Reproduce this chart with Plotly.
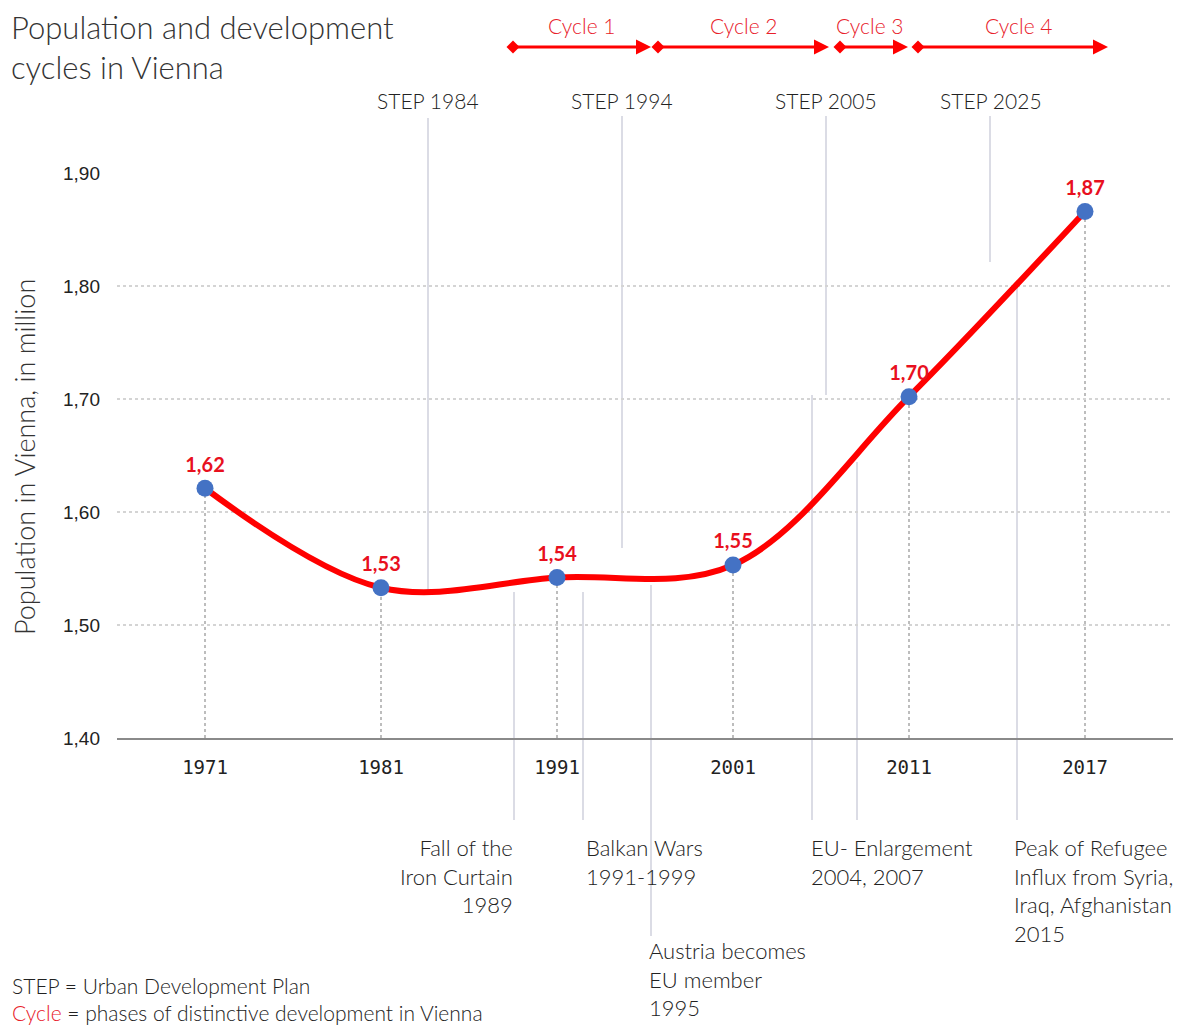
import plotly.graph_objects as go

# ---------------- data ----------------
years = ["1971", "1981", "1991", "2001", "2011", "2017"]
population = [1.621, 1.533, 1.542, 1.553, 1.702, 1.866]

step_labels = ["STEP 1984", "STEP 1994", "STEP 2005", "STEP 2025"]
cycle_labels = ["Cycle 1", "Cycle 2", "Cycle 3", "Cycle 4"]
event_labels = [
    "Fall of the<br>Iron Curtain<br>1989",
    "Balkan Wars<br>1991-1999",
    "Austria becomes<br>EU member<br>1995",
    "EU- Enlargement<br>2004, 2007",
    "Peak of Refugee<br>Influx from Syria,<br>Iraq, Afghanistan<br>2015",
]
y_ticks = [1.40, 1.50, 1.60, 1.70, 1.80, 1.90]

# ---------------- layout helpers (pixel positions of decorations) ----------------
W, H = 1181, 1025
PL, PR, PT, PB = 117, 1173, 173, 738   # plot area in pixels
STEP = (PR - PL) / len(years)


def dx(px):
    """pixel x -> category-axis data x"""
    return (px - PL) / STEP - 0.5


def py(pyv):
    """pixel y -> paper y"""
    return (PB - pyv) / (PB - PT)


def px_paper_x(px):
    return (px - PL) / (PR - PL)


RED = "#FF0000"
LINEC = "#cfd0dc"
FONT = "Lato"
TXT = "#222222"

fig = go.Figure()

xs = list(range(len(years)))

# dotted drop lines from each point to the axis
for i, v in enumerate(population):
    fig.add_shape(type="line", xref="x", yref="y", x0=i, x1=i, y0=y_ticks[0], y1=v,
                  line=dict(color="#a8a8a8", width=1.5, dash="dot"), layer="below")

# main series
fig.add_trace(go.Scatter(
    x=xs, y=population, mode="lines+markers+text",
    line=dict(color=RED, width=6, shape="spline", smoothing=1.0),
    marker=dict(color="#4472C4", size=17, line=dict(width=0)),
    texttemplate="%{y:.2f}", textposition="top center",
    textfont=dict(family=FONT, size=20, color="#e8101e", weight="bold"),
    cliponaxis=False, showlegend=False, hoverinfo="skip",
))

# vertical event/STEP lines (pixel x, top, bottom)
vlines = [
    (428, 118, 592), (622, 116, 548), (826, 116, 395), (990, 116, 262),
    (514, 592, 820), (583, 592, 820), (651, 585, 936),
    (812, 395, 820), (857, 462, 820), (1017, 282, 820),
]
for (xp, t, b) in vlines:
    fig.add_shape(type="line", xref="x", yref="paper", x0=dx(xp), x1=dx(xp),
                  y0=py(b), y1=py(t), line=dict(color=LINEC, width=1.5), layer="below")

# STEP labels
step_px = [428, 622, 826, 991]
for lab, xp in zip(step_labels, step_px):
    fig.add_annotation(text=lab, xref="x", yref="paper", x=dx(xp), y=py(101),
                       xanchor="center", yanchor="middle", showarrow=False,
                       font=dict(family=FONT, size=21, color=TXT, weight=300))

# cycle arrows
cycles_px = [(513, 651), (658, 829), (840, 908), (918, 1108)]
cyc_label_px = [581, 743, 869, 1018]
AY = 47
hw = 6.5 / STEP              # diamond half width (data units)
hh = 6.5 / (PB - PT)         # diamond half height (paper units)
tl = 15 / STEP               # triangle length
th = 7.5 / (PB - PT)         # triangle half height
for (a, b), lab, lx in zip(cycles_px, cycle_labels, cyc_label_px):
    xa, xb, yc = dx(a), dx(b), py(AY)
    fig.add_shape(type="line", xref="x", yref="paper", x0=xa, x1=xb - tl * 0.8,
                  y0=yc, y1=yc, line=dict(color=RED, width=3))
    fig.add_shape(type="path", xref="x", yref="paper",
                  path=f"M {xa - hw} {yc} L {xa} {yc + hh} L {xa + hw} {yc} L {xa} {yc - hh} Z",
                  fillcolor=RED, line=dict(width=0))
    fig.add_shape(type="path", xref="x", yref="paper",
                  path=f"M {xb} {yc} L {xb - tl} {yc + th} L {xb - tl} {yc - th} Z",
                  fillcolor=RED, line=dict(width=0))
    fig.add_annotation(text=lab, xref="x", yref="paper", x=dx(lx), y=py(26),
                       xanchor="center", yanchor="middle", showarrow=False,
                       font=dict(family=FONT, size=21, color="#e8202a", weight=300))

# event annotations below axis (pixel x, pixel top, anchor)
ev_pos = [(515, 832, "right"), (584, 832, "left"), (647, 935, "left"),
          (809, 832, "left"), (1012, 832, "left")]
for lab, (xp, tp, anc) in zip(event_labels, ev_pos):
    fig.add_annotation(text=lab, xref="x", yref="paper", x=dx(xp), y=py(tp),
                       xanchor=anc, yanchor="top", align=anc, showarrow=False,
                       font=dict(family=FONT, size=22, color=TXT, weight=300))

# footnotes
fig.add_annotation(text="STEP = Urban Development Plan", xref="paper", yref="paper",
                   x=px_paper_x(10), y=py(985), xanchor="left", yanchor="middle",
                   showarrow=False, font=dict(family=FONT, size=21, color=TXT, weight=300))
fig.add_annotation(text="<span style='color:#e8202a'>Cycle</span> = phases of distinctive development in Vienna",
                   xref="paper", yref="paper",
                   x=px_paper_x(10), y=py(1012), xanchor="left", yanchor="middle",
                   showarrow=False, font=dict(family=FONT, size=21, color=TXT, weight=300))

# y-axis title
fig.add_annotation(text="Population in Vienna, in million", xref="paper", yref="paper",
                   x=px_paper_x(25), y=py(457), xanchor="center", yanchor="middle",
                   textangle=-90, showarrow=False,
                   font=dict(family=FONT, size=27, color="#333333", weight=300))

# chart title
fig.add_annotation(text="Population and development<br>cycles in Vienna",
                   xref="paper", yref="paper", x=px_paper_x(9), y=py(6),
                   xanchor="left", yanchor="top", align="left", showarrow=False,
                   font=dict(family=FONT, size=31, color="#333333", weight=300))

fig.update_layout(
    width=W, height=H,
    margin=dict(l=PL, r=W - PR, t=PT, b=H - PB, autoexpand=False),
    paper_bgcolor="white", plot_bgcolor="white",
    separators=",.",
    xaxis=dict(range=[-0.5, len(years) - 0.5], tickvals=xs, ticktext=years,
               showgrid=False, zeroline=False, showline=True, linecolor="#8a8a8a",
               linewidth=1.5, ticks="", ticklabelstandoff=11,
               tickfont=dict(family="DejaVu Sans Mono", size=19, color=TXT)),
    yaxis=dict(range=[y_ticks[0], y_ticks[-1]], tickvals=y_ticks, tickformat=".2f",
               showgrid=True, gridcolor="#d4d4d4", gridwidth=1.5, griddash="dot",
               zeroline=False, showline=False, ticks="", ticklabelstandoff=16,
               tickfont=dict(family="Liberation Sans", size=19, color=TXT)),
)

fig.write_html("out.html")
